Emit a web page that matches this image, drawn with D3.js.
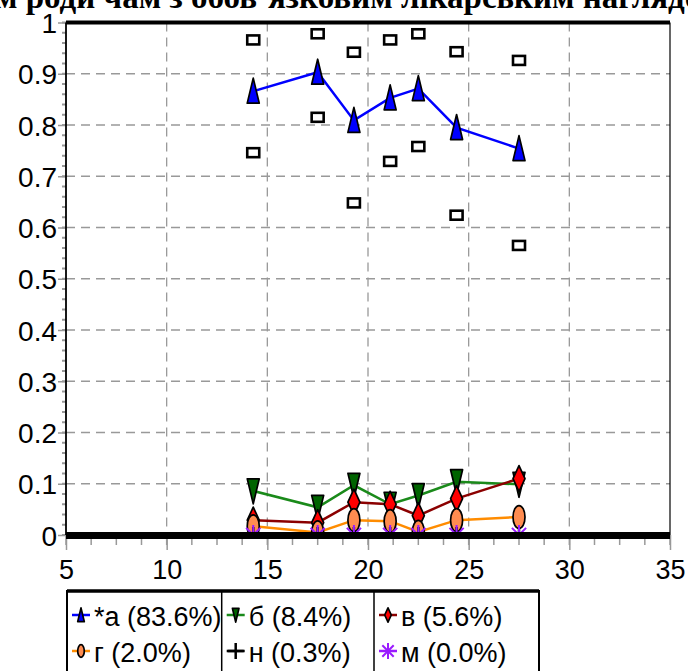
<!DOCTYPE html>
<html><head><meta charset="utf-8">
<script src="https://cdn.jsdelivr.net/npm/d3@7/dist/d3.min.js"></script>
<style>body{margin:0;background:#fff}svg{display:block}</style>
</head><body>
<svg id="c" width="688" height="671"></svg>
<script>
const titleText = "ям роди чам з обов’язковим лікарським наглядом";
const xVals = [14.3, 17.5, 19.3, 21.1, 22.5, 24.4, 27.5];
const seriesA = [0.866, 0.903, 0.809, 0.853, 0.871, 0.795, 0.754];
const seriesAHi = [0.966, 0.978, 0.942, 0.966, 0.978, 0.943, 0.926];
const seriesALo = [0.746, 0.815, 0.648, 0.729, 0.758, 0.624, 0.565];
const seriesB = [0.086, 0.054, 0.097, 0.060, 0.077, 0.104, 0.099];
const seriesV = [0.029, 0.024, 0.064, 0.060, 0.038, 0.071, 0.110];
const seriesG = [0.017, 0.005, 0.029, 0.027, 0.006, 0.029, 0.035];
const seriesN = [0, 0, 0, 0, 0, 0, 0];
const seriesM = [0, 0, 0, 0, 0, 0, 0];
const legendLabels = ["*а (83.6%)", "б (8.4%)", "в (5.6%)", "г (2.0%)", "н (0.3%)", "м (0.0%)"];
const xTicks = [5, 10, 15, 20, 25, 30, 35];
const yTicks = [0, 0.1, 0.2, 0.3, 0.4, 0.5, 0.6, 0.7, 0.8, 0.9, 1];

const svg = d3.select("#c");
const x = d3.scaleLinear().domain([5, 35]).range([66, 670]);
const y = d3.scaleLinear().domain([0, 1]).range([535, 22.5]);
const FONT = "'Liberation Sans', Arial, sans-serif";

svg.append("defs").append("clipPath").attr("id", "plotclip").append("rect")
  .attr("x", x(5)).attr("y", 0).attr("width", x(35) - x(5)).attr("height", y(0) + 1);

const shapes = {
  up: "M0,-13L6,12L-6,12Z",
  down: "M-6,-12L6,-12L0,13Z",
  diamond: "M0,-13L6,0L0,13L-6,0Z",
};
function drawMarker(g, type, cx, cy, fill, s) {
  s = s || 1;
  const t = `translate(${cx},${cy}) scale(${s})`;
  if (shapes[type]) {
    g.append("path").attr("d", shapes[type]).attr("transform", t)
      .attr("fill", fill).attr("stroke", "#000").attr("stroke-width", 1.7 / s).attr("stroke-linejoin", "round");
  } else if (type === "ellipse") {
    g.append("ellipse").attr("transform", t).attr("rx", 6).attr("ry", 11.5)
      .attr("fill", fill).attr("stroke", "#000").attr("stroke-width", 1.7 / s);
  } else if (type === "plus") {
    g.append("path").attr("transform", t).attr("d", "M-8,0H8M0,-8V8")
      .attr("stroke", fill).attr("stroke-width", 2.5 / s);
  } else if (type === "star") {
    const r = 10, q = 7.1;
    g.append("path").attr("transform", t)
      .attr("d", `M0,${-r}V${r}M${-r},0H${r}M${-q},${-q}L${q},${q}M${-q},${q}L${q},${-q}`)
      .attr("stroke", fill).attr("stroke-width", 2 / s);
  }
}

// title
const TF = "'Liberation Serif', 'Times New Roman', serif";
const title = svg.append("text").attr("y", 8).attr("font-family", TF)
  .attr("font-weight", "bold").attr("font-size", 33).text(titleText);
const tmp = svg.append("text").attr("font-family", TF).attr("font-weight", "bold")
  .attr("font-size", 33).text("я");
const wYa = tmp.node().getComputedTextLength(); tmp.remove();
title.attr("x", -wYa - 5);

// grid
const grid = svg.append("g").attr("stroke", "#999").attr("stroke-width", 1.3).attr("stroke-dasharray", "9,6");
grid.selectAll(".gx").data(xTicks.slice(1, -1)).join("line")
  .attr("x1", d => x(d)).attr("x2", d => x(d)).attr("y1", y(1)).attr("y2", y(0));
grid.selectAll(".gy").data(yTicks.slice(1, -1)).join("line")
  .attr("y1", d => y(d)).attr("y2", d => y(d)).attr("x1", x(5)).attr("x2", x(35));

// axes
const yAxis = d3.axisLeft(y).tickValues(yTicks).tickSize(8).tickPadding(1).tickFormat(d3.format("~g"));
const yg = svg.append("g").attr("transform", `translate(${x(5)},0)`).call(yAxis);
yg.select(".domain").remove();
yg.selectAll("line").attr("stroke", "#999").attr("stroke-width", 1.5);
yg.selectAll("text").attr("font-family", FONT).attr("font-size", 28).attr("fill", "#000").attr("dy", "0.36em");
const yMinor = d3.range(0, 1.0001, 0.02);
svg.append("g").selectAll("line").data(yMinor).join("line")
  .attr("x1", x(5) - 4).attr("x2", x(5)).attr("y1", d => y(d)).attr("y2", d => y(d))
  .attr("stroke", "#999").attr("stroke-width", 2);

const xAxis = d3.axisBottom(x).tickValues(xTicks).tickSize(15).tickPadding(10).tickFormat(d3.format("d"));
const xg = svg.append("g").attr("transform", `translate(0,${y(0)})`).call(xAxis);
xg.select(".domain").remove();
xg.selectAll("line").attr("stroke", "#999").attr("stroke-width", 1.5);
xg.selectAll("text").attr("font-family", FONT).attr("font-size", 27).attr("fill", "#000");
const xMinor = d3.range(5, 35.001, 1.25);
svg.append("g").selectAll("line").data(xMinor).join("line")
  .attr("x1", d => x(d)).attr("x2", d => x(d)).attr("y1", y(0)).attr("y2", y(0) + 10)
  .attr("stroke", "#999").attr("stroke-width", 1.5);

// frame
svg.append("line").attr("x1", x(5)).attr("x2", x(5)).attr("y1", y(1)).attr("y2", y(0)).attr("stroke", "#000").attr("stroke-width", 1.8);
svg.append("line").attr("x1", x(35)).attr("x2", x(35)).attr("y1", y(1)).attr("y2", y(0)).attr("stroke", "#000").attr("stroke-width", 1.2);
svg.append("line").attr("x1", x(5)).attr("x2", x(35)).attr("y1", y(1)).attr("y2", y(1)).attr("stroke", "#000").attr("stroke-width", 4);

// series
const series = [
  { vals: seriesA, line: "#0000ff", fill: "#0000ff", type: "up" },
  { vals: seriesB, line: "#1a8a1a", fill: "#006400", type: "down" },
  { vals: seriesV, line: "#8b0000", fill: "#ff0000", type: "diamond" },
  { vals: seriesG, line: "#ff8c00", fill: "#ff8c50", type: "ellipse" },
  { vals: seriesN, line: "#000000", fill: "#000000", type: "plus" },
  { vals: seriesM, line: "#9a1aff", fill: "#9a1aff", type: "star" },
];
const line = d3.line().x((d, i) => x(xVals[i])).y(d => y(d));
const plot = svg.append("g").attr("clip-path", "url(#plotclip)");
series.forEach(s => {
  plot.append("path").datum(s.vals).attr("d", line).attr("fill", "none")
    .attr("stroke", s.line).attr("stroke-width", 2.5);
  s.vals.forEach((v, i) => drawMarker(plot, s.type, x(xVals[i]), y(v), s.fill));
});
// confidence squares
const sq = svg.append("g");
[seriesAHi, seriesALo].forEach(arr => {
  sq.selectAll(null).data(arr).join("rect")
    .attr("x", (d, i) => x(xVals[i]) - 6).attr("y", d => y(d) - 4.5)
    .attr("width", 12).attr("height", 9).attr("fill", "#fff")
    .attr("stroke", "#000").attr("stroke-width", 2.6);
});

// thick x axis line
svg.append("line").attr("x1", x(5)).attr("x2", x(35)).attr("y1", y(0) + 0.5).attr("y2", y(0) + 0.5)
  .attr("stroke", "#000").attr("stroke-width", 7);

// legend
const lg = svg.append("g");
const L = { x0: 67, x1: 539, top: 591, cols: [67, 221.7, 374], rows: [615, 651] };
lg.append("rect").attr("x", L.x0).attr("y", L.top).attr("width", L.x1 - L.x0).attr("height", 120)
  .attr("fill", "#fff").attr("stroke", "#000").attr("stroke-width", 2);
lg.append("line").attr("x1", L.x0).attr("x2", L.x1).attr("y1", L.top).attr("y2", L.top).attr("stroke", "#000").attr("stroke-width", 3.5);
[1, 2].forEach(c => lg.append("line").attr("x1", L.cols[c]).attr("x2", L.cols[c]).attr("y1", L.top).attr("y2", 680)
  .attr("stroke", "#000").attr("stroke-width", 1.5));
const legendScale = { up: 0.55, down: 0.55, diamond: 0.55, ellipse: 0.55, plus: 1, star: 0.8 };
series.forEach((s, i) => {
  const c = i % 3, r = Math.floor(i / 3);
  const ix = L.cols[c] + 5, cy = L.rows[r];
  lg.append("line").attr("x1", ix).attr("x2", ix + 18).attr("y1", cy).attr("y2", cy)
    .attr("stroke", s.line).attr("stroke-width", 2.5);
  drawMarker(lg, s.type, ix + 9, cy, s.fill, legendScale[s.type]);
  lg.append("text").attr("x", ix + 22).attr("y", cy + 11).attr("font-family", FONT)
    .attr("font-size", 27).attr("fill", "#000").text(legendLabels[i]);
});
</script>
</body></html>
